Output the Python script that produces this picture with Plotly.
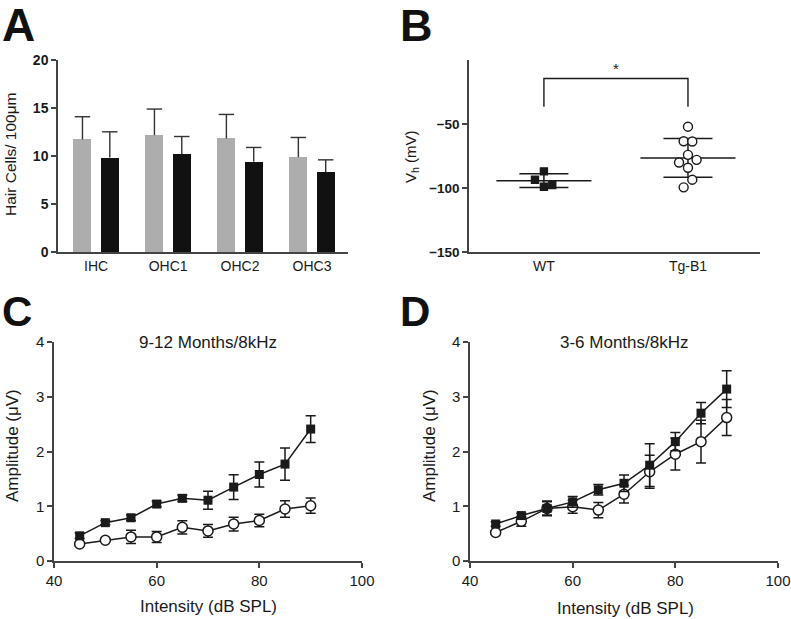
import plotly.graph_objects as go
import numpy as np

FONT = "Liberation Sans, Arial, Helvetica, sans-serif"
INK = "#1a1a1a"
AXC = "#444444"

# ---------------- Panel A data ----------------
cell_types = ["IHC", "OHC1", "OHC2", "OHC3"]
a_gray_mean = [11.72, 12.17, 11.83, 9.88]
a_gray_sd = [2.37, 2.72, 2.50, 2.05]
a_black_mean = [9.84, 10.19, 9.39, 8.31]
a_black_sd = [2.68, 1.84, 1.50, 1.29]

# ---------------- Panel B data ----------------
b_groups = ["WT", "Tg-B1"]
b_wt_vh = [-93.5, -87.0, -99.0, -97.7]
b_wt_jit = [-0.062, 0.0, 0.0, 0.058]
b_tg_vh = [-52.1, -63.5, -63.7, -74.1, -80.1, -78.0, -84.2, -93.5, -99.5]
b_tg_jit = [0.0, -0.03, 0.03, 0.0, -0.062, 0.06, 0.0, 0.03, -0.03]
b_bracket_low, b_bracket_high = -36.5, -14.5

# ---------------- Panel C / D data ----------------
intensity = [45, 50, 55, 60, 65, 70, 75, 80, 85, 90]
c_sq = [0.46, 0.70, 0.79, 1.04, 1.145, 1.11, 1.35, 1.58, 1.77, 2.41]
c_sq_err = [0.05, 0.04, 0.05, 0.05, 0.06, 0.165, 0.225, 0.23, 0.295, 0.245]
c_ci = [0.31, 0.38, 0.44, 0.44, 0.615, 0.55, 0.675, 0.74, 0.95, 1.01]
c_ci_err = [0.03, 0.03, 0.12, 0.10, 0.12, 0.115, 0.125, 0.115, 0.15, 0.14]
d_sq = [0.676, 0.83, 0.96, 1.08, 1.30, 1.42, 1.75, 2.18, 2.70, 3.14]
d_sq_err = [0.04, 0.04, 0.135, 0.10, 0.095, 0.15, 0.39, 0.165, 0.195, 0.335]
d_ci = [0.52, 0.725, 0.96, 0.99, 0.93, 1.22, 1.63, 1.95, 2.18, 2.62]
d_ci_err = [0.03, 0.09, 0.12, 0.12, 0.14, 0.16, 0.30, 0.29, 0.39, 0.33]

W, H = 791, 619


def fx(px):  # pixel x -> paper fraction
    return px / W


def fy(py):  # pixel y (from top) -> paper fraction
    return (H - py) / H


def px_x(a, b):
    return [fx(a), fx(b)]


def px_y(top, bottom):
    return [fy(bottom), fy(top)]


fig = go.Figure()

# ---------- Panel A ----------
idx = np.arange(len(cell_types))
off = 0.19
bw = 0.25
for shift, mean, sd, col in [(-off, a_gray_mean, a_gray_sd, "#adadad"),
                             (off, a_black_mean, a_black_sd, "#111111")]:
    xs = idx + shift
    fig.add_trace(go.Bar(x=xs, y=mean, width=bw, marker=dict(color=col, line=dict(width=0)),
                         xaxis="x", yaxis="y", showlegend=False))
    tops = np.array(mean) + np.array(sd)
    fig.add_trace(go.Scatter(
        x=xs, y=tops, mode="markers",
        marker=dict(symbol="line-ew", size=11, line=dict(width=1.4, color="#333")),
        error_y=dict(type="data", symmetric=False, array=[0] * len(sd), arrayminus=sd,
                     width=0, thickness=1.4, color="#333"),
        xaxis="x", yaxis="y", showlegend=False, cliponaxis=False))

# ---------- Panel B ----------
for gi, vals, jit, sym, fill in [(0, b_wt_vh, b_wt_jit, "square", INK),
                                 (1, b_tg_vh, b_tg_jit, "circle", "white")]:
    v = np.array(vals)
    m, s = v.mean(), v.std(ddof=1)
    fig.add_trace(go.Scatter(x=[gi - 0.33, gi + 0.33], y=[m, m], mode="lines",
                             line=dict(color=INK, width=1.5), xaxis="x2", yaxis="y2", showlegend=False))
    for yy in (m - s, m + s):
        fig.add_trace(go.Scatter(x=[gi - 0.17, gi + 0.17], y=[yy, yy], mode="lines",
                                 line=dict(color=INK, width=1.5), xaxis="x2", yaxis="y2", showlegend=False))
    fig.add_trace(go.Scatter(x=[gi, gi], y=[m - s, m + s], mode="lines",
                             line=dict(color=INK, width=1.5), xaxis="x2", yaxis="y2", showlegend=False))
    fig.add_trace(go.Scatter(x=gi + np.array(jit), y=v, mode="markers",
                             marker=dict(symbol=sym, size=7 if sym == "square" else 9, color=fill,
                                         line=dict(color=INK, width=1.4)),
                             xaxis="x2", yaxis="y2", showlegend=False))
fig.add_trace(go.Scatter(x=[0, 0, 1, 1], y=[b_bracket_low, b_bracket_high, b_bracket_high, b_bracket_low],
                         mode="lines", line=dict(color=INK, width=1.4), xaxis="x2", yaxis="y2",
                         showlegend=False))

# ---------- Panels C / D ----------
for xa, ya, sq, sqe, ci, cie in [("x3", "y3", c_sq, c_sq_err, c_ci, c_ci_err),
                                  ("x4", "y4", d_sq, d_sq_err, d_ci, d_ci_err)]:
    fig.add_trace(go.Scatter(x=intensity, y=ci, mode="lines+markers",
                             line=dict(color=INK, width=1.5),
                             marker=dict(symbol="circle", size=10, color="white", line=dict(color=INK, width=1.5)),
                             error_y=dict(type="data", array=cie, width=5, thickness=1.5, color=INK),
                             xaxis=xa, yaxis=ya, showlegend=False, cliponaxis=False))
    fig.add_trace(go.Scatter(x=intensity, y=sq, mode="lines+markers",
                             line=dict(color=INK, width=1.5),
                             marker=dict(symbol="square", size=9, color=INK, line=dict(color=INK, width=0)),
                             error_y=dict(type="data", array=sqe, width=5, thickness=1.5, color=INK),
                             xaxis=xa, yaxis=ya, showlegend=False, cliponaxis=False))

axis_common = dict(showline=True, linecolor=AXC, linewidth=1.5, showgrid=False, zeroline=False,
                   ticks="outside", ticklen=5, tickwidth=1.5, tickcolor=AXC, automargin=False)

fig.update_layout(
    width=W, height=H, margin=dict(l=0, r=0, t=0, b=0, autoexpand=False),
    paper_bgcolor="white", plot_bgcolor="white",
    font=dict(family=FONT, color=INK),
    bargap=0,
    xaxis=dict(axis_common, domain=px_x(58, 348), range=[-0.53, 3.5], tickvals=list(idx),
               ticktext=cell_types, ticks="", tickfont=dict(size=14), anchor="y"),
    yaxis=dict(axis_common, domain=px_y(60, 252), range=[0, 20], tickvals=[0, 5, 10, 15, 20],
               tickfont=dict(size=14, weight="bold"), anchor="x"),
    xaxis2=dict(axis_common, domain=px_x(469, 760), range=[-0.52, 1.5], tickvals=[0, 1],
                ticktext=b_groups, ticks="", tickfont=dict(size=14), anchor="y2"),
    yaxis2=dict(axis_common, domain=px_y(60, 252), range=[-150, 0], tickvals=[-150, -100, -50],
                tickfont=dict(size=13.5, weight="bold"), anchor="x2"),
    xaxis3=dict(axis_common, domain=px_x(54, 362), range=[40, 100], tickvals=[40, 60, 80, 100],
                tickfont=dict(size=15), anchor="y3"),
    yaxis3=dict(axis_common, domain=px_y(342, 561), range=[0, 4], tickvals=[0, 1, 2, 3, 4],
                tickfont=dict(size=15), anchor="x3"),
    xaxis4=dict(axis_common, domain=px_x(470, 778), range=[40, 100], tickvals=[40, 60, 80, 100],
                tickfont=dict(size=15), anchor="y4"),
    yaxis4=dict(axis_common, domain=px_y(342, 561), range=[0, 4], tickvals=[0, 1, 2, 3, 4],
                tickfont=dict(size=15), anchor="x4"),
)


def pa(text, xc, yc, size, angle=0, **kw):
    return dict(text=text, x=fx(xc), y=fy(yc), xref="paper", yref="paper",
                xanchor=kw.get("xanchor", "center"), yanchor="middle", showarrow=False,
                textangle=angle, font=dict(size=size, family=FONT, color=kw.get("color", INK)))


annots = []
# panel letters
for letter, x0, yc, fs in [("A", 0, 25, 46), ("B", 398, 26, 45), ("C", 0, 312, 42), ("D", 398, 312, 42)]:
    annots.append(pa("<b>%s</b>" % letter, x0, yc, fs, xanchor="left", color="#111"))
# axis titles
annots.append(pa("Hair Cells/ 100\u03bcm", 11, 154, 15.5, angle=-90))
annots.append(pa("V<sub>h</sub> (mV)", 411, 157, 15, angle=-90))
annots.append(pa("Amplitude (\u03bcV)", 12, 446, 17, angle=-90))
annots.append(pa("Amplitude (\u03bcV)", 429, 446, 17, angle=-90))
annots.append(pa("Intensity (dB SPL)", 209, 606, 17))
annots.append(pa("Intensity (dB SPL)", 625, 608, 17))
# panel subtitles
annots.append(pa("9-12 Months/8kHz", 208, 342, 17))
annots.append(pa("3-6 Months/8kHz", 624, 342, 17))
# significance star
annots.append(dict(text="*", x=0.5, y=-6.5, xref="x2", yref="y2", xanchor="center", yanchor="middle",
                   showarrow=False, font=dict(size=15)))
fig.update_layout(annotations=annots)

# remove the default 8px page margin so the 791x619 figure fills the window exactly
fig.write_html("out.html", config={"displayModeBar": False},
               post_script="document.body.style.margin='0px';document.body.style.overflow='hidden';")
